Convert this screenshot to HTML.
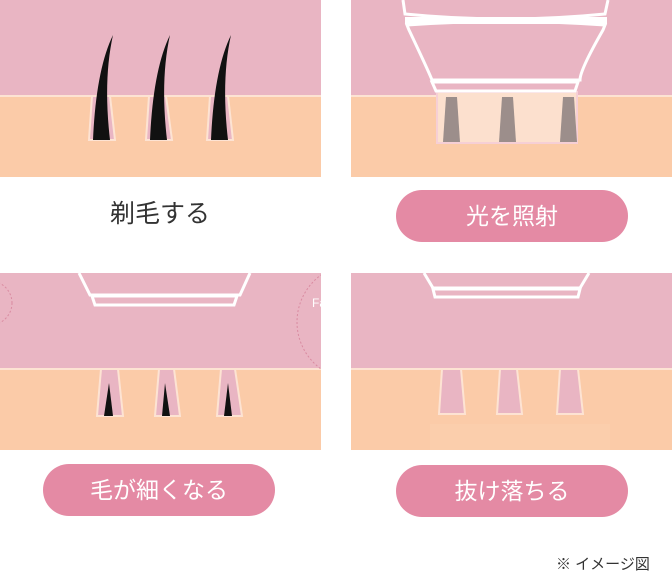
<!DOCTYPE html><html><head><meta charset="utf-8"><style>
body{margin:0;background:#fff;width:672px;height:575px;overflow:hidden;font-family:"Liberation Sans","Noto Sans CJK JP",sans-serif}
.pill{position:absolute;background:#E48AA4;color:#fff;border-radius:26px;text-align:center;font-size:23px;line-height:52px;height:52px}
</style></head><body>
<svg width="672" height="575" style="position:absolute;left:0;top:0">
<defs><clipPath id="bl"><rect x="0" y="273" width="321" height="96"/></clipPath></defs>
<!-- top-left -->
<rect x="0" y="0" width="321" height="177" fill="#E9B5C3"/>
<rect x="0" y="96" width="321" height="81" fill="#FBCBA8"/>
<line x1="0" y1="96" x2="321" y2="96" stroke="#FDE3D3" stroke-width="2"/>
<text x="165" y="-2" fill="#fff" font-size="20" text-anchor="middle">What is IPL?</text>
<g fill="#E9B5C3" stroke="#FDE3D3" stroke-width="2">
<path d="M92 96 L89 140 L115 140 L110 96Z"/>
<path d="M149 96 L146 140 L172 140 L166 96Z"/>
<path d="M210 96 L207 140 L233 140 L228 96Z"/>
</g>
<g fill="#111">
<path d="M93 140 Q96 70 113 35 Q103 80 110 140Z"/>
<path d="M150 140 Q153 70 170 35 Q160 80 167 140Z"/>
<path d="M211 140 Q214 70 231 35 Q221 80 228 140Z"/>
</g>
<!-- top-right -->
<rect x="351" y="0" width="321" height="177" fill="#E9B5C3"/>
<rect x="351" y="96" width="321" height="81" fill="#FBCBA8"/>
<line x1="351" y1="96" x2="672" y2="96" stroke="#FDE3D3" stroke-width="2"/>
<rect x="437" y="92" width="140" height="51" fill="#FCE0CE" stroke="#F6CFD5" stroke-width="2"/>
<g fill="#9C8E8B">
<path d="M446 97 L457 97 L460 142 L443 142Z"/>
<path d="M502 97 L513 97 L516 142 L499 142Z"/>
<path d="M563 97 L574 97 L577 142 L560 142Z"/>
</g>
<g fill="none" stroke="#fff" stroke-width="3">
<path d="M403 0 L405 14 Q505 24 605 14 L608 0"/>
<path d="M407 25 Q505 18 605 25 L603 30 Q580 70 580 80 L432 80 Q428 70 409 30Z"/>
<path d="M432 82 L578 82 L575 91 L436 91Z"/>
</g>
<rect x="405" y="17" width="202" height="7" fill="#fff"/>
<!-- bottom-left -->
<rect x="0" y="273" width="321" height="177" fill="#E9B5C3"/>
<rect x="0" y="369" width="321" height="81" fill="#FBCBA8"/>
<line x1="0" y1="369" x2="321" y2="369" stroke="#FDE3D3" stroke-width="2"/>
<g fill="#E9B5C3" stroke="#FDE3D3" stroke-width="2">
<path d="M101 369 L97 416 L123 416 L118 369Z"/>
<path d="M159 369 L155 416 L180 416 L174 369Z"/>
<path d="M221 369 L217 416 L242 416 L235 369Z"/>
</g>
<g fill="#111">
<path d="M109 383 L104 416 L113 416Z"/>
<path d="M165 383 L162 416 L170 416Z"/>
<path d="M228 383 L224 416 L232 416Z"/>
</g>
<g clip-path="url(#bl)">
<circle cx="-10" cy="303" r="22" fill="none" stroke="#D98AA0" stroke-width="1" stroke-dasharray="2 2"/>
<circle cx="355" cy="322" r="58" fill="none" stroke="#D98AA0" stroke-width="1" stroke-dasharray="2 2"/>
<text x="312" y="307" fill="#fff" font-size="12">Fa</text>
</g>
<g fill="none" stroke="#fff" stroke-width="3">
<path d="M79 273 L90 295 L240 295 L250 273"/>
<path d="M92 296 L237 296 L234 305 L95 305Z"/>
</g>
<!-- bottom-right -->
<rect x="351" y="273" width="321" height="177" fill="#E9B5C3"/>
<rect x="351" y="369" width="321" height="81" fill="#FBCBA8"/>
<line x1="351" y1="369" x2="672" y2="369" stroke="#FDE3D3" stroke-width="2"/>
<g fill="#E9B5C3" stroke="#FDE3D3" stroke-width="2">
<path d="M442 369 L439 414 L465 414 L461 369Z"/>
<path d="M500 369 L497 414 L522 414 L517 369Z"/>
<path d="M560 369 L557 414 L583 414 L578 369Z"/>
</g>
<rect x="430" y="424" width="180" height="26" fill="#FBCEAC"/>
<g fill="none" stroke="#fff" stroke-width="3">
<path d="M424 273 L433 288 L580 288 L589 273"/>
<path d="M433 289 L580 289 L578 297 L435 297Z"/>
</g>
</svg>
<div style="position:absolute;left:80px;top:196px;width:160px;text-align:center;font-size:25px;line-height:36px;color:#333">剃毛する</div>
<div class="pill" style="left:396px;top:190px;width:232px">光を照射</div>
<div class="pill" style="left:43px;top:464px;width:232px">毛が細くなる</div>
<div class="pill" style="left:396px;top:465px;width:232px">抜け落ちる</div>
<div style="position:absolute;left:556px;top:555px;font-size:15px;color:#333;line-height:20px">※ イメージ図</div>
</body></html>
